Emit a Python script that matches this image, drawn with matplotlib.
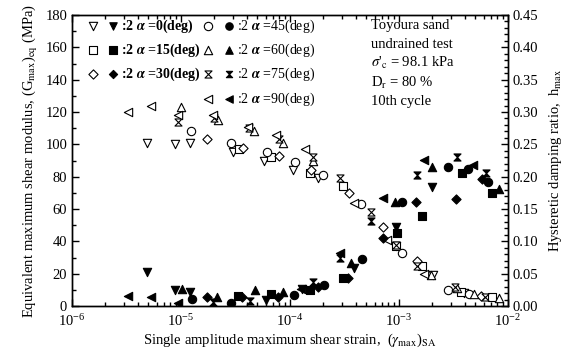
import numpy as np
import matplotlib.pyplot as plt
from matplotlib.path import Path
from matplotlib.ticker import MultipleLocator, LogLocator, NullFormatter

plt.rcParams['font.family'] = ['Liberation Serif', 'DejaVu Serif']
plt.rcParams['mathtext.fontset'] = 'stix'

# 2alpha = 0 deg
strain_g_00 = [4.9e-6, 8.8e-6, 1.2e-5, 3.0e-5, 5.8e-5, 1.07e-4, 1.8e-4, 9.4e-4, 2.05e-3, 3.95e-3]
gmax_00 = [101, 100, 101, 95, 90, 84, 79, 37, 19, 8]
strain_h_00 = [4.9e-6, 8.8e-6, 1.2e-5, 6.0e-5, 1.3e-4, 3.9e-4, 9.4e-4, 2.0e-3]
hmax_00 = [0.053, 0.025, 0.022, 0.009, 0.026, 0.059, 0.122, 0.184]

# 2alpha = 15 deg
strain_g_15 = [3.4e-5, 6.7e-5, 1.52e-4, 3.06e-4, 9.4e-4, 1.63e-3, 3.7e-3, 7.1e-3]
gmax_15 = [97, 92, 82, 74, 37, 25, 8.7, 5.6]
strain_h_15 = [3.3e-5, 6.7e-5, 1.52e-4, 3.06e-4, 9.6e-4, 1.63e-3, 3.8e-3, 7.1e-3]
hmax_15 = [0.015, 0.019, 0.025, 0.043, 0.113, 0.139, 0.206, 0.175]

# 2alpha = 30 deg
strain_g_30 = [1.73e-5, 3.7e-5, 7.9e-5, 1.56e-4, 3.5e-4, 7.1e-4, 1.46e-3, 5.6e-3]
gmax_30 = [103, 98, 93, 84, 70, 49, 28, 6.2]
strain_h_30 = [1.73e-5, 3.6e-5, 7.8e-5, 1.8e-4, 3.4e-4, 7.1e-4, 1.43e-3, 3.33e-3, 5.8e-3]
hmax_30 = [0.014, 0.014, 0.014, 0.029, 0.043, 0.105, 0.161, 0.165, 0.196]

# 2alpha = 45 deg
strain_g_45 = [1.24e-5, 2.9e-5, 6.2e-5, 1.11e-4, 2.0e-4, 4.5e-4, 1.07e-3, 2.8e-3, 4.4e-3]
gmax_45 = [108, 101, 95, 89, 81, 63, 33, 9.9, 7.4]
strain_h_45 = [1.26e-5, 2.9e-5, 1.09e-4, 2.05e-4, 4.6e-4, 1.07e-3, 2.8e-3, 4.3e-3, 6.6e-3]
hmax_45 = [0.011, 0.005, 0.017, 0.032, 0.073, 0.161, 0.215, 0.212, 0.192]

# 2alpha = 60 deg
strain_g_60 = [1.0e-5, 2.18e-5, 4.7e-5, 8.6e-5, 1.63e-4, 1.97e-3, 3.4e-3, 4.9e-3, 8.3e-3]
gmax_60 = [123, 115, 108, 101, 90, 19, 11, 7.4, 4.9]
strain_h_60 = [1.02e-5, 2.14e-5, 4.8e-5, 8.6e-5, 3.6e-4, 9.2e-4, 2.0e-3, 8.3e-3]
hmax_60 = [0.026, 0.014, 0.025, 0.022, 0.066, 0.161, 0.215, 0.181]

# 2alpha = 75 deg
strain_g_75 = [9.4e-6, 2.0e-5, 4.2e-5, 7.9e-5, 1.63e-4, 2.9e-4, 5.5e-4, 9.4e-4, 1.46e-3, 3.27e-3, 6.1e-3]
gmax_75 = [114, 116, 110, 103, 92, 79, 58, 38, 25, 12, 5.6]
strain_h_75 = [1.97e-5, 4.3e-5, 1.63e-4, 2.9e-4, 5.5e-4, 1.46e-3, 3.4e-3, 6.3e-3]
hmax_75 = [0.006, 0.008, 0.037, 0.074, 0.131, 0.203, 0.230, 0.206]

# 2alpha = 90 deg
strain_g_90 = [3.27e-6, 5.3e-6, 9.4e-6, 1.97e-5, 4.1e-5, 7.4e-5, 1.37e-4, 3.9e-4, 7.8e-4, 1.7e-3]
gmax_90 = [120, 124, 118, 118, 111, 106, 97, 64, 41, 20]
strain_h_90 = [3.27e-6, 5.3e-6, 9.4e-6, 1.25e-4, 2.9e-4, 7.1e-4, 1.7e-3, 4.8e-3]
hmax_90 = [0.015, 0.014, 0.005, 0.027, 0.082, 0.167, 0.226, 0.218]

angles = [0, 15, 30, 45, 60, 75, 90]

# hourglass marker for 75 deg
hourglass = Path([(-1, 1), (1, 1), (-1, -1), (1, -1), (-1, 1)],
                 [Path.MOVETO, Path.LINETO, Path.LINETO, Path.LINETO, Path.CLOSEPOLY])

series = [
    (strain_g_00, gmax_00, strain_h_00, hmax_00, 'v', 36),
    (strain_g_15, gmax_15, strain_h_15, hmax_15, 's', 32),
    (strain_g_30, gmax_30, strain_h_30, hmax_30, 'D', 22),
    (strain_g_45, gmax_45, strain_h_45, hmax_45, 'o', 36),
    (strain_g_60, gmax_60, strain_h_60, hmax_60, '^', 36),
    (strain_g_75, gmax_75, strain_h_75, hmax_75, hourglass, 26),
    (strain_g_90, gmax_90, strain_h_90, hmax_90, '<', 36),
]

fig = plt.figure(figsize=(5.74, 3.52), dpi=100)
ax1 = fig.add_axes([72/574, 1-306/352, 436/574, 291/352])
ax2 = ax1.twinx()

for sg, g, sh, h, m, s in series:
    ax1.scatter(sg, g, marker=m, s=s, facecolors='white', edgecolors='k', linewidths=0.8, zorder=3)
    ax2.scatter(sh, h, marker=m, s=s, facecolors='k', edgecolors='k', linewidths=0.8, zorder=3)

ax1.set_xscale('log')
ax1.set_xlim(1e-6, 1e-2)
ax1.set_ylim(0, 180)
ax2.set_ylim(0, 0.45)

ax1.yaxis.set_major_locator(MultipleLocator(20))
ax1.yaxis.set_minor_locator(MultipleLocator(10))
ax2.yaxis.set_major_locator(MultipleLocator(0.05))
ax2.yaxis.set_minor_locator(MultipleLocator(0.01))
ax2.yaxis.set_major_formatter(plt.FormatStrFormatter('%.2f'))
ax1.xaxis.set_major_locator(LogLocator(base=10, numticks=10))
ax1.xaxis.set_minor_locator(LogLocator(base=10, subs=np.arange(2, 10), numticks=10))
ax1.xaxis.set_minor_formatter(NullFormatter())

ax1.tick_params(which='both', direction='in', top=True, right=False, labelsize=10.5, width=1)
ax1.tick_params(which='major', length=5)
ax1.tick_params(which='minor', length=3)
ax1.tick_params(axis='x', pad=5)
ax2.tick_params(which='both', direction='in', labelsize=10.5, width=1)
ax2.tick_params(which='major', length=5)
ax2.tick_params(which='minor', length=3)
for a in (ax1, ax2):
    for sp in a.spines.values():
        sp.set_linewidth(1)

ax1.set_xlabel(r'Single amplitude maximum shear strain,  ($\gamma_{\rm max}$)$_{\rm SA}$', fontsize=10.5, labelpad=2)
ax1.set_ylabel(r'Equivalent maximum shear modulus, (G$_{\rm max}$)$_{\rm eq}$ (MPa)', fontsize=10.5, labelpad=4)
ax2.set_ylabel(r'Hysteretic damping ratio,  h$_{\rm max}$', fontsize=10.5, labelpad=6)

# legend drawn by hand, two columns of hollow/filled pairs
def px(x, y):
    return (x - 72) / 436, (306 - y) / 291

rows_y = [26, 50, 74, 99]
legend_pos = [(0, 0), (0, 1), (0, 2), (1, 0), (1, 1), (1, 2), (1, 3)]
col_x = [(93, 113, 121), (208, 229, 237)]
for (col, row), (sg, g, sh, h, m, s), ang in zip(legend_pos, series, angles):
    xh, xf, xt = col_x[col]
    yy = rows_y[row]
    ax1.scatter(*px(xh, yy), marker=m, s=s, facecolors='white', edgecolors='k', linewidths=0.8,
                transform=ax1.transAxes, clip_on=False, zorder=4)
    ax1.scatter(*px(xf, yy), marker=m, s=s * 0.8, facecolors='k', edgecolors='k', linewidths=0.8,
                transform=ax1.transAxes, clip_on=False, zorder=4)
    ax1.text(*px(xt, yy), r':2 $\boldsymbol{\alpha}$ =%d(deg)' % ang, transform=ax1.transAxes,
             fontsize=10, va='center', ha='left',
             fontweight='bold' if col == 0 else 'normal')

notes = ['Toyoura sand', 'undrained test', r"$\sigma$'$_{\rm c}$ = 98.1 kPa",
         r'D$_{\rm r}$ = 80 %', '10th cycle']
for i, t in enumerate(notes):
    ax1.text(*px(371, 25 + i * 19.2), t, transform=ax1.transAxes, fontsize=10.5, va='center', ha='left')

fig.savefig('out.png', dpi=100)
